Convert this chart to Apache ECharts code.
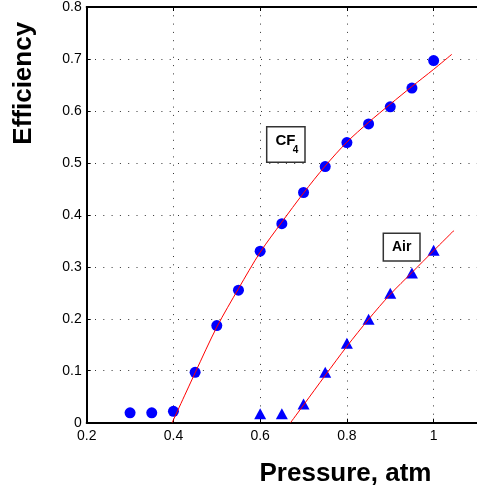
<!DOCTYPE html>
<html>
<head>
<meta charset="utf-8">
<script src="https://cdn.jsdelivr.net/npm/echarts@6/dist/echarts.min.js"></script>
<style>
html,body{margin:0;padding:0;background:#fff;}
#chart{width:477px;height:494px;}
</style>
</head>
<body>
<div id="chart"></div>
<script>
// ---- data ----
const xTickValues = [0.2, 0.4, 0.6, 0.8, 1.0];
const yTickValues = [0, 0.1, 0.2, 0.3, 0.4, 0.5, 0.6, 0.7, 0.8];

const cf4Pressure   = [0.30, 0.35, 0.40, 0.45, 0.50, 0.55, 0.60, 0.65, 0.70, 0.75, 0.80, 0.85, 0.90, 0.95, 1.00];
const cf4Efficiency = [0.019, 0.019, 0.022, 0.097, 0.187, 0.255, 0.330, 0.383, 0.443, 0.493, 0.539, 0.575, 0.608, 0.644, 0.697];

const airPressure   = [0.60, 0.65, 0.70, 0.75, 0.80, 0.85, 0.90, 0.95, 1.00];
const airEfficiency = [0.017, 0.017, 0.036, 0.097, 0.153, 0.199, 0.249, 0.288, 0.332];

const cf4FitPressure   = [0.397, 0.45, 0.50, 0.55, 0.60, 0.65, 0.70, 0.75, 0.80, 0.85, 0.90, 0.95, 1.00, 1.042];
const cf4FitEfficiency = [0.000, 0.096, 0.184, 0.258, 0.328, 0.386, 0.442, 0.494, 0.540, 0.578, 0.613, 0.647, 0.680, 0.709];

const airFitPressure   = [0.670, 0.70, 0.75, 0.80, 0.85, 0.90, 0.95, 1.00, 1.047];
const airFitEfficiency = [0.000, 0.034, 0.091, 0.147, 0.199, 0.247, 0.289, 0.331, 0.370];

const xTitle = 'Pressure, atm';
const yTitle = 'Efficiency';
const cf4Label = 'CF';
const cf4Sub = '4';
const airLabel = 'Air';

// ---- build ----
const pairs = (xs, ys) => xs.map((x, i) => [x, ys[i]]);
const FONT = "'Liberation Sans', Arial, Helvetica, sans-serif";
const dotted = { color: '#333', width: 1, type: [1, 7.3] };

const chart = echarts.init(document.getElementById('chart'), null, { renderer: 'canvas' });

const xCommon = {
  type: 'value', min: 0.2, max: 1.1, interval: 0.2,
  axisLine: { show: true, onZero: false, lineStyle: { color: '#000', width: 2 } },
  axisTick: { show: true, inside: true, length: 4, lineStyle: { color: '#000', width: 1 } },
};

chart.setOption({
  animation: false,
  backgroundColor: '#fff',
  grid: { left: 86.7, right: -5.7, top: 5.7, bottom: 71.3, containLabel: false },
  xAxis: [
    Object.assign({}, xCommon, {
      position: 'bottom',
      axisLabel: {
        show: true, margin: 6, color: '#000', fontSize: 14, fontFamily: FONT,
        showMaxLabel: false,
        formatter: v => (xTickValues.some(t => Math.abs(t - v) < 1e-6) ? String(+v.toFixed(2)) : '')
      },
      splitLine: { show: true, lineStyle: dotted }
    }),
    Object.assign({}, xCommon, {
      position: 'top',
      axisLabel: { show: false },
      splitLine: { show: false }
    })
  ],
  yAxis: {
    type: 'value', min: 0, max: 0.8, interval: 0.1,
    axisLine: { show: true, onZero: false, lineStyle: { color: '#000', width: 2 } },
    axisTick: { show: true, inside: true, length: 4, lineStyle: { color: '#000', width: 1 } },
    axisLabel: {
      show: true, margin: 5, color: '#000', fontSize: 14, fontFamily: FONT,
      formatter: v => (yTickValues.some(t => Math.abs(t - v) < 1e-6) ? String(+v.toFixed(2)) : '')
    },
    splitLine: { show: true, lineStyle: dotted }
  },
  series: [
    {
      name: 'CF4 fit', type: 'line', data: pairs(cf4FitPressure, cf4FitEfficiency),
      showSymbol: false, smooth: 0.3, lineStyle: { color: '#ff0000', width: 1 }, z: 3
    },
    {
      name: 'Air fit', type: 'line', data: pairs(airFitPressure, airFitEfficiency),
      showSymbol: false, smooth: 0.3, lineStyle: { color: '#ff0000', width: 1 }, z: 3
    },
    {
      name: 'CF4', type: 'scatter', data: pairs(cf4Pressure, cf4Efficiency),
      symbol: 'circle', symbolSize: 11, itemStyle: { color: '#0000ff', opacity: 1 }, z: 2
    },
    {
      name: 'Air', type: 'scatter', data: pairs(airPressure, airEfficiency),
      symbol: 'triangle', symbolSize: [12, 11], itemStyle: { color: '#0000ff', opacity: 1 }, z: 2
    }
  ],
  graphic: [
    {
      type: 'text', x: 345.5, y: 473.5,
      style: { text: xTitle, font: "bold 26px " + FONT, fill: '#000', align: 'center', verticalAlign: 'middle' }
    },
    {
      type: 'text', x: 23.5, y: 83.3, rotation: Math.PI / 2,
      style: { text: yTitle, font: "bold 26px " + FONT, fill: '#000', align: 'center', verticalAlign: 'middle' }
    },
    {
      type: 'rect', shape: { x: 266.7, y: 126.7, width: 38.3, height: 35.6 },
      style: { fill: '#fff', stroke: '#333', lineWidth: 1.5 }, z: 10
    },
    {
      type: 'text', x: 275.5, y: 141,
      style: { text: cf4Label, font: "bold 15px " + FONT, fill: '#000', align: 'left', verticalAlign: 'middle' }, z: 11
    },
    {
      type: 'text', x: 292.8, y: 150.5,
      style: { text: cf4Sub, font: "bold 10px " + FONT, fill: '#000', align: 'left', verticalAlign: 'middle' }, z: 11
    },
    {
      type: 'rect', shape: { x: 383.3, y: 233.3, width: 36.7, height: 27.7 },
      style: { fill: '#fff', stroke: '#333', lineWidth: 1.5 }, z: 10
    },
    {
      type: 'text', x: 401.7, y: 246.8,
      style: { text: airLabel, font: "bold 14px " + FONT, fill: '#000', align: 'center', verticalAlign: 'middle' }, z: 11
    }
  ]
});
</script>
</body>
</html>
